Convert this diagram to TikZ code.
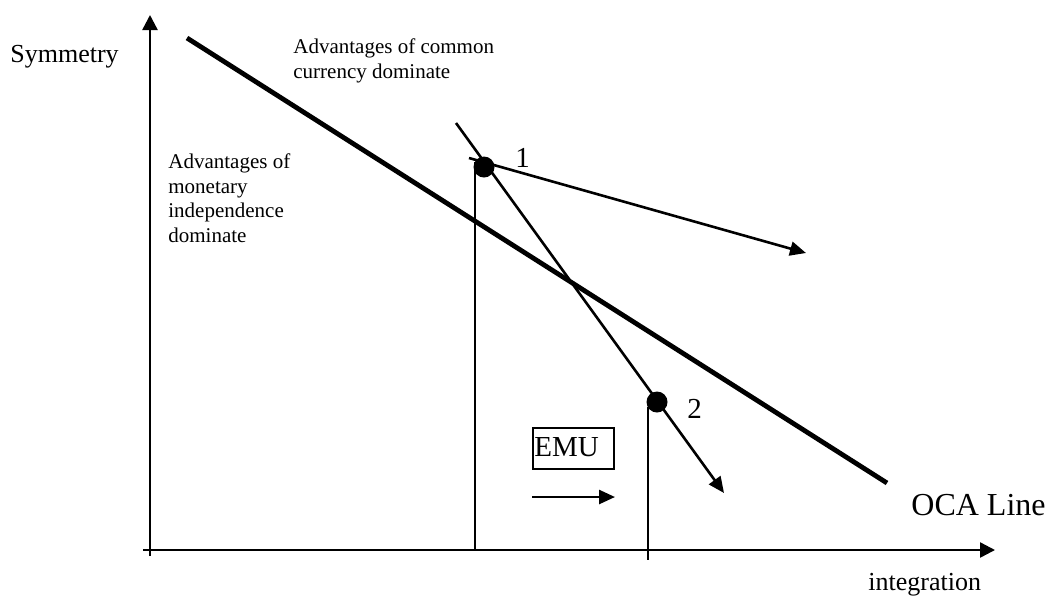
\documentclass[tikz,border=0pt]{standalone}
\usepackage{fontspec}
\setmainfont{Liberation Serif}
\usetikzlibrary{arrows.meta}
\begin{document}
\begin{tikzpicture}[x=0.5pt,y=-0.5pt,
  axis/.style={line width=1.2pt,-{Triangle[length=7.5pt,width=7.5pt]}},
  thin/.style={line width=1.3pt},
  arr/.style={line width=1.3pt,-{Triangle[length=8pt,width=7pt]}},
  ocaline/.style={line width=2.4pt},
  dot/.style={circle,fill=black,inner sep=0pt,minimum size=10.5pt},
  big/.style={inner sep=0pt,anchor=base west,font=\fontsize{13pt}{15pt}\selectfont},
  num/.style={inner sep=0pt,anchor=base west,font=\fontsize{14.5pt}{16pt}\selectfont},
  small/.style={inner sep=0pt,anchor=north west,align=left,font=\fontsize{10.5pt}{12.3pt}\selectfont}]
\useasboundingbox (0,0) rectangle (1048,596);
% axes
\coordinate (yb) at (150,556);
\coordinate (yt) at (150,15);
\coordinate (xl) at (143,550);
\coordinate (xr) at (995,550);
\draw[axis] (yb) -- (yt);
\draw[axis] (xl) -- (xr);
% OCA line
\coordinate (oa) at (187,38);
\coordinate (ob) at (887,483);
\draw[ocaline] (oa) -- (ob);
% points
\node[dot] (p1) at (484,167) {};
\node[dot] (p2) at (657,402) {};
\coordinate (ss) at (456,123);
\coordinate (st) at (724,493);
\draw[arr] (ss) -- (st);
\coordinate (a1s) at (469,158);
\coordinate (a1t) at (806,253);
\draw[arr] (a1s) -- (a1t);
% verticals
\coordinate (v1t) at (475,162);
\coordinate (v1b) at (475,550);
\draw[thin] (v1t) -- (v1b);
\coordinate (v2t) at (648,407);
\coordinate (v2b) at (648,560);
\draw[thin] (v2t) -- (v2b);
% EMU
\node[draw,line width=0.9pt,minimum width=40.5pt,minimum height=20.5pt,inner sep=0pt,anchor=north west] (emubox) at (532,427) {};
\node[num] (emu) at (534,456) {EMU};
\coordinate (ea) at (532,497);
\coordinate (eb) at (615,497);
\draw[arr] (ea) -- (eb);
% labels
\node[big] (sym) at (10,62) {Symmetry};
\node[num] (l1) at (515,167) {1};
\node[num] (l2) at (687,418) {2};
\node[inner sep=0pt,anchor=base west,font=\fontsize{16pt}{18pt}\selectfont] (oca) at (911,515) {OCA Line};
\node[big] (integ) at (868,590) {integration};
\node[small] (adv1) at (293,38.5) {Advantages of common\\currency dominate};
\node[small] (adv2) at (168,153.5) {Advantages of\\monetary\\independence\\dominate};
\end{tikzpicture}
\end{document}
